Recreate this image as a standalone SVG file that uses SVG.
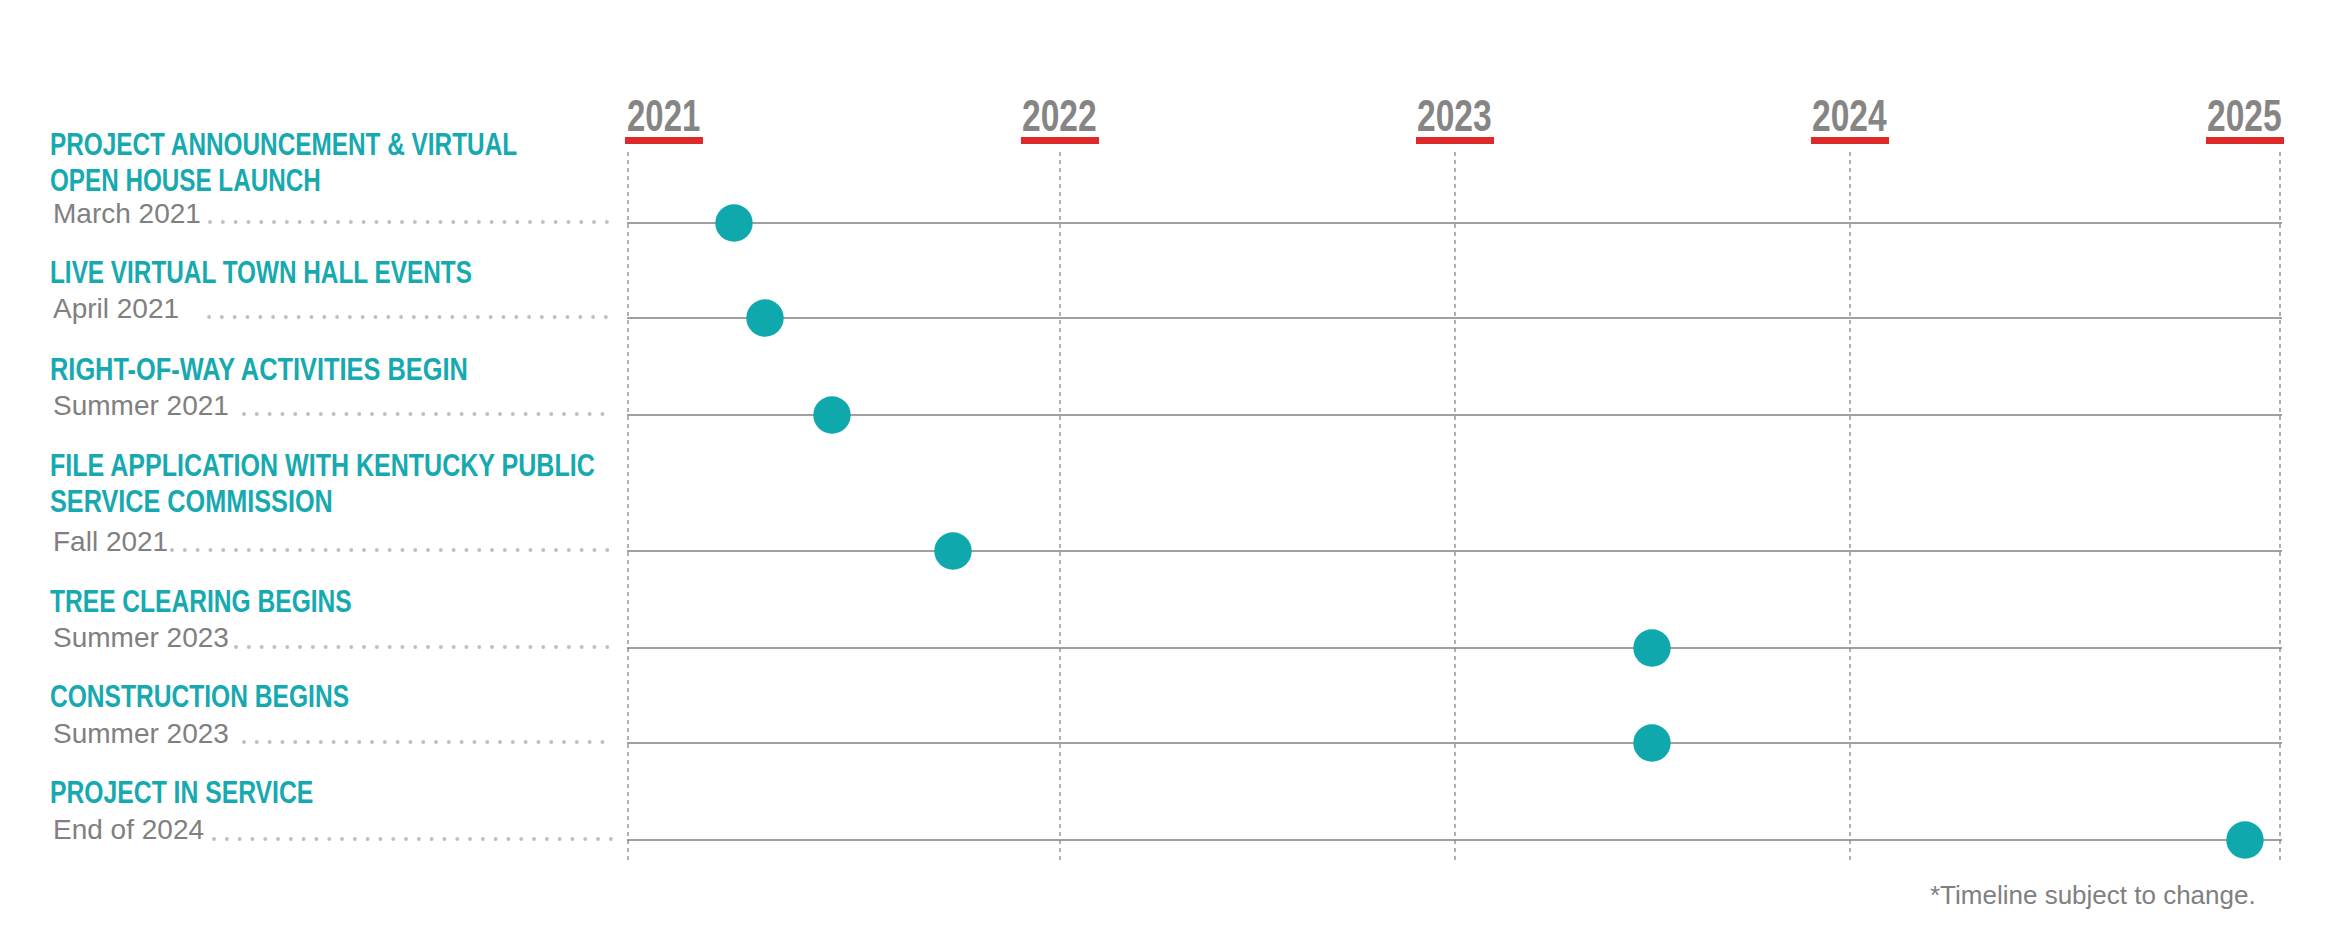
<svg xmlns="http://www.w3.org/2000/svg" width="2330" height="932" viewBox="0 0 2330 932">
<style>
.hd{font-family:"Liberation Sans",Arial,sans-serif;font-weight:bold;font-size:32px;fill:#16a9b0}
.dt{font-family:"Liberation Sans",Arial,sans-serif;font-size:28px;fill:#808080}
.yr{font-family:"Liberation Sans",Arial,sans-serif;font-weight:bold;font-size:45px;fill:#858585}
.bar{fill:#dc2a2a}
.vd{stroke:#b0b0b0;stroke-width:2;stroke-dasharray:4 4;fill:none}
.hl{stroke:#808080;stroke-width:1.6;fill:none}
.ld{stroke:#c0c0c0;stroke-width:3.8;stroke-linecap:round;stroke-dasharray:0.1 12.7;fill:none}
.dot{fill:#0fa8ad}
.fn{font-family:"Liberation Sans",Arial,sans-serif;font-size:26px;fill:#808080}
</style>
<g id="axis">
  <g id="year-2021"><text class="yr" transform="matrix(0.74 0 0 1 627 131)" x="0" y="0" textLength="99" lengthAdjust="spacingAndGlyphs">2021</text><rect class="bar" x="625" y="137" width="78" height="7"/><line class="vd" x1="628" y1="152" x2="628" y2="860"/></g>
  <g id="year-2022"><text class="yr" transform="matrix(0.74 0 0 1 1022 131)" x="0" y="0" textLength="101" lengthAdjust="spacingAndGlyphs">2022</text><rect class="bar" x="1021" y="137" width="78" height="7"/><line class="vd" x1="1060" y1="152" x2="1060" y2="860"/></g>
  <g id="year-2023"><text class="yr" transform="matrix(0.74 0 0 1 1417 131)" x="0" y="0" textLength="101" lengthAdjust="spacingAndGlyphs">2023</text><rect class="bar" x="1416" y="137" width="78" height="7"/><line class="vd" x1="1455" y1="152" x2="1455" y2="860"/></g>
  <g id="year-2024"><text class="yr" transform="matrix(0.74 0 0 1 1812 131)" x="0" y="0" textLength="101" lengthAdjust="spacingAndGlyphs">2024</text><rect class="bar" x="1811" y="137" width="78" height="7"/><line class="vd" x1="1850" y1="152" x2="1850" y2="860"/></g>
  <g id="year-2025"><text class="yr" transform="matrix(0.74 0 0 1 2207 131)" x="0" y="0" textLength="101" lengthAdjust="spacingAndGlyphs">2025</text><rect class="bar" x="2206" y="137" width="78" height="7"/><line class="vd" x1="2280" y1="152" x2="2280" y2="860"/></g>
</g>
<g id="connectors">
  <line class="hl" x1="627" y1="223" x2="2282" y2="223"/>
  <line class="hl" x1="627" y1="318" x2="2282" y2="318"/>
  <line class="hl" x1="627" y1="415" x2="2282" y2="415"/>
  <line class="hl" x1="627" y1="551" x2="2282" y2="551"/>
  <line class="hl" x1="627" y1="648" x2="2282" y2="648"/>
  <line class="hl" x1="627" y1="743" x2="2282" y2="743"/>
  <line class="hl" x1="627" y1="840" x2="2282" y2="840"/>
  <line class="ld" x1="210" y1="222" x2="612" y2="222"/>
  <line class="ld" x1="209" y1="317" x2="612" y2="317"/>
  <line class="ld" x1="244" y1="414" x2="612" y2="414"/>
  <line class="ld" x1="172" y1="550" x2="612" y2="550"/>
  <line class="ld" x1="236" y1="647" x2="612" y2="647"/>
  <line class="ld" x1="244" y1="742" x2="612" y2="742"/>
  <line class="ld" x1="214" y1="839" x2="612" y2="839"/>
</g>
<g id="m1">
  <text class="hd" transform="matrix(0.675 0 0 1 50 0)"><tspan x="0" y="155" textLength="692" lengthAdjust="spacingAndGlyphs">PROJECT ANNOUNCEMENT &amp; VIRTUAL</tspan><tspan x="0" y="191" textLength="401" lengthAdjust="spacingAndGlyphs">OPEN HOUSE LAUNCH</tspan></text>
  <text class="dt" x="53" y="223">March 2021</text>
  <circle class="dot" cx="734" cy="223" r="18.7"/>
</g>
<g id="m2">
  <text class="hd" transform="matrix(0.675 0 0 1 50 283)" x="0" y="0" textLength="625" lengthAdjust="spacingAndGlyphs">LIVE VIRTUAL TOWN HALL EVENTS</text>
  <text class="dt" x="53" y="318">April 2021</text>
  <circle class="dot" cx="765" cy="318" r="18.7"/>
</g>
<g id="m3">
  <text class="hd" transform="matrix(0.675 0 0 1 50 380)" x="0" y="0" textLength="619" lengthAdjust="spacingAndGlyphs">RIGHT-OF-WAY ACTIVITIES BEGIN</text>
  <text class="dt" x="53" y="415">Summer 2021</text>
  <circle class="dot" cx="832" cy="415" r="18.7"/>
</g>
<g id="m4">
  <text class="hd" transform="matrix(0.675 0 0 1 50 0)"><tspan x="0" y="476" textLength="807" lengthAdjust="spacingAndGlyphs">FILE APPLICATION WITH KENTUCKY PUBLIC</tspan><tspan x="0" y="512" textLength="419" lengthAdjust="spacingAndGlyphs">SERVICE COMMISSION</tspan></text>
  <text class="dt" x="53" y="551">Fall 2021</text>
  <circle class="dot" cx="953" cy="551" r="18.7"/>
</g>
<g id="m5">
  <text class="hd" transform="matrix(0.675 0 0 1 50 612)" x="0" y="0" textLength="447" lengthAdjust="spacingAndGlyphs">TREE CLEARING BEGINS</text>
  <text class="dt" x="53" y="647">Summer 2023</text>
  <circle class="dot" cx="1652" cy="648" r="18.7"/>
</g>
<g id="m6">
  <text class="hd" transform="matrix(0.675 0 0 1 50 707)" x="0" y="0" textLength="443" lengthAdjust="spacingAndGlyphs">CONSTRUCTION BEGINS</text>
  <text class="dt" x="53" y="743">Summer 2023</text>
  <circle class="dot" cx="1652" cy="743" r="18.7"/>
</g>
<g id="m7">
  <text class="hd" transform="matrix(0.675 0 0 1 50 803)" x="0" y="0" textLength="390" lengthAdjust="spacingAndGlyphs">PROJECT IN SERVICE</text>
  <text class="dt" x="53" y="839">End of 2024</text>
  <circle class="dot" cx="2245" cy="840" r="18.7"/>
</g>
<g id="footnote">
  <text class="fn" x="1930" y="904">*Timeline subject to change.</text>
</g>
</svg>
